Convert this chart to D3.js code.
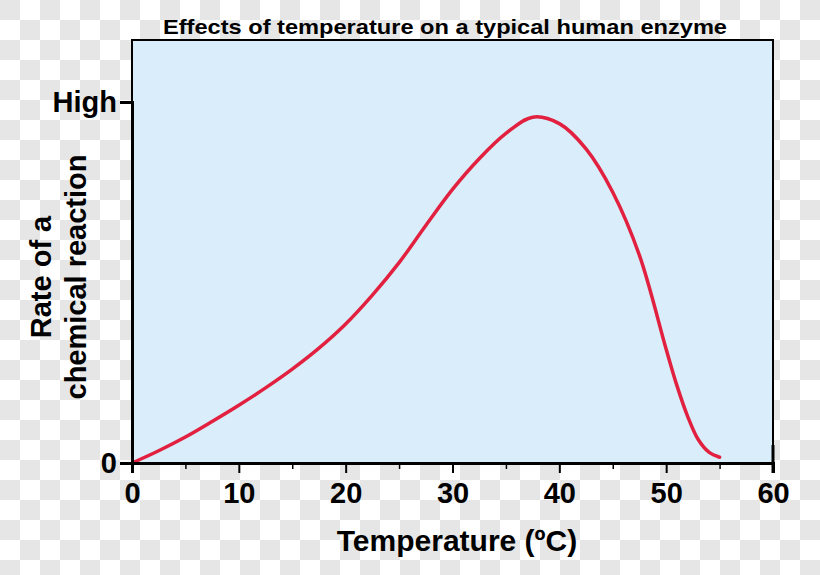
<!DOCTYPE html>
<html>
<head>
<meta charset="utf-8">
<script src="https://cdn.jsdelivr.net/npm/d3@7"></script>
<style>
  html, body { margin: 0; padding: 0; background: #fff; }
  svg { display: block; }
  text { font-family: "Liberation Sans", Arial, sans-serif; font-weight: bold; fill: #000; }
</style>
</head>
<body>
<svg id="chart" width="820" height="575"></svg>
<script>
// ---- data ----
const temperature = [0, 2.5, 5, 7.5, 10, 12.5, 15, 17.5, 20, 22.5, 25, 27.5, 30, 32.5, 35, 37.5, 40, 42.5, 45, 47.5, 50, 51, 52, 53, 54, 55];
const rate        = [0, 3.4, 7.2, 11.5, 16.0, 20.8, 26.0, 31.8, 38.5, 46.5, 55.5, 65.8, 75.8, 84.3, 91.3, 95.8, 94.0, 87.0, 75.0, 57.5, 31.5, 21.5, 13.0, 6.5, 3.0, 1.6];
const xMajorTicks = [0, 10, 20, 30, 40, 50, 60];
const xMinorTicks = [5, 15, 25, 35, 45, 55];
const yTickValues = [0, 100];
const yTickLabels = ["0", "High"];
const titleText = "Effects of temperature on a typical human enzyme";
const xLabelText = "Temperature (ºC)";
const yLabelLines = ["Rate of a", "chemical reaction"];

// ---- layout ----
const svg = d3.select("#chart");
const W = 820, H = 575;
const L = 132, R = 773, T = 40, B = 463;

// checkerboard background
const cell = 20;
const cells = [];
for (let j = 0; j * cell < H; j++) for (let i = 0; i * cell < W; i++) if ((i + j) % 2 === 0) cells.push([i, j]);
svg.append("rect").attr("width", W).attr("height", H).attr("fill", "#ffffff");
const bg = svg.append("g");
cells.forEach(c => bg.append("rect")
  .attr("x", c[0] * cell).attr("y", c[1] * cell)
  .attr("width", cell).attr("height", cell).style("fill", "#e6e6e6"));

const x = d3.scaleLinear().domain([0, 60]).range([L, R]);
const y = d3.scaleLinear().domain([0, 100]).range([B, 102]);

// plot area
svg.append("rect").attr("x", L).attr("y", T).attr("width", R - L).attr("height", B - T)
  .attr("fill", "#d9eefa").attr("stroke", "#000").attr("stroke-width", 2);

// curve
const line = d3.line().x((d, i) => x(temperature[i])).y(d => y(d)).curve(d3.curveCatmullRom.alpha(0.5));
svg.append("path").datum(rate).attr("d", line)
  .attr("fill", "none").attr("stroke", "#e2203f").attr("stroke-width", 3.5)
  .attr("stroke-linecap", "round");

// x axis minor ticks
svg.append("g").attr("transform", `translate(0,${B})`)
  .call(d3.axisBottom(x).tickValues(xMinorTicks).tickSize(6).tickFormat(""))
  .call(g => g.select(".domain").remove())
  .call(g => g.selectAll("line").attr("stroke", "#000").attr("stroke-width", 1.5));

// x axis major
const xa = svg.append("g").attr("transform", `translate(0,${B})`)
  .call(d3.axisBottom(x).tickValues(xMajorTicks).tickSize(10).tickPadding(9).tickFormat(d3.format("d")));
xa.select(".domain").attr("stroke", "#000").attr("stroke-width", 3);
xa.selectAll("line").attr("stroke", "#000").attr("stroke-width", 2);
xa.selectAll("text").style("font-size", "29px").attr("font-family", null);

// y axis
const ya = svg.append("g").attr("transform", `translate(${L},0)`)
  .call(d3.axisLeft(y).tickValues(yTickValues).tickSize(12).tickPadding(3)
    .tickFormat((d, i) => yTickLabels[i]));
ya.select(".domain").attr("stroke", "#000").attr("stroke-width", 3);
ya.selectAll("line").attr("stroke", "#000").attr("stroke-width", 1.5);
ya.selectAll("text").style("font-size", "29px").attr("font-family", null);

// right edge thicker bottom segment
svg.append("line").attr("x1", R).attr("x2", R).attr("y1", 445).attr("y2", 473)
  .attr("stroke", "#000").attr("stroke-width", 3);

// title
svg.append("text").attr("x", 445).attr("y", 34).attr("text-anchor", "middle")
  .style("font-size", "21px").attr("textLength", 564).attr("lengthAdjust", "spacingAndGlyphs")
  .text(titleText);

// x label
svg.append("text").attr("x", 457).attr("y", 551).attr("text-anchor", "middle")
  .style("font-size", "30px").text(xLabelText);

// y label
const yl = svg.append("text").attr("transform", "translate(51,277) rotate(-90)")
  .attr("text-anchor", "middle").style("font-size", "29px");
yl.append("tspan").attr("x", 0).attr("y", 0).text(yLabelLines[0]);
yl.append("tspan").attr("x", 0).attr("y", 35).text(yLabelLines[1]);
</script>
</body>
</html>
